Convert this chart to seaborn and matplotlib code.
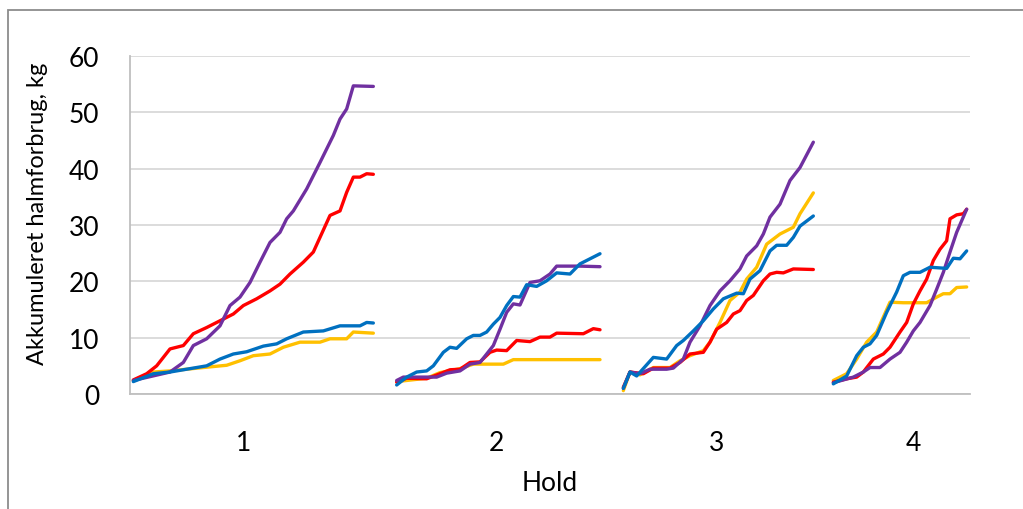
import matplotlib
matplotlib.use("Agg")
import matplotlib.pyplot as plt
from matplotlib.patches import Rectangle
import numpy as np
import pandas as pd
import seaborn as sns

# Accumulated straw use (kg) per pen, four rounds ("hold").
# Each round: days since the round started and accumulated kg per pen.
hold_labels = ["1", "2", "3", "4"]
hold_start_day = [1, 80, 148, 211]

# Round 1
h1_purple_day = [0, 11, 15, 18, 22, 26, 29, 32, 35, 38, 41, 44, 46, 48, 52, 56, 60, 62, 64, 66, 72]
h1_purple_kg = [2.4, 3.9, 5.6, 8.6, 9.8, 12.1, 15.7, 17.2, 19.8, 23.4, 26.9, 28.7, 31.1, 32.5, 36.4, 41.1, 45.9, 48.8, 50.6, 54.7, 54.6]
h1_red_day = [0, 4, 7, 11, 15, 18, 22, 26, 30, 33, 37, 41, 44, 47, 51, 54, 56, 59, 62, 64, 66, 68, 70, 72]
h1_red_kg = [2.5, 3.6, 5.0, 8.0, 8.6, 10.7, 11.8, 13.0, 14.2, 15.7, 16.9, 18.3, 19.5, 21.3, 23.4, 25.2, 27.8, 31.7, 32.5, 35.8, 38.5, 38.5, 39.1, 39.0]
h1_blue_day = [0, 6, 11, 16, 22, 26, 30, 34, 39, 43, 46, 51, 57, 62, 68, 70, 72]
h1_blue_kg = [2.2, 3.6, 3.9, 4.4, 5.0, 6.2, 7.1, 7.5, 8.5, 8.9, 9.8, 11.0, 11.2, 12.1, 12.1, 12.7, 12.6]
h1_yellow_day = [0, 6, 11, 16, 21, 28, 32, 36, 41, 45, 50, 56, 59, 64, 66, 72]
h1_yellow_kg = [2.4, 3.9, 4.1, 4.4, 4.7, 5.1, 5.9, 6.8, 7.1, 8.3, 9.2, 9.2, 9.8, 9.8, 11.0, 10.8]

# Round 2
h2_purple_day = [0, 2, 7, 12, 15, 19, 22, 25, 27, 29, 31, 33, 35, 37, 40, 43, 46, 48, 55, 61]
h2_purple_kg = [2.4, 3.0, 3.0, 3.0, 3.7, 4.1, 5.3, 5.6, 7.1, 8.6, 11.5, 14.5, 16.0, 15.8, 19.8, 20.1, 21.3, 22.7, 22.7, 22.6]
h2_red_day = [0, 3, 9, 13, 16, 19, 22, 25, 28, 30, 33, 36, 40, 43, 46, 48, 56, 59, 61]
h2_red_kg = [2.1, 2.8, 2.7, 3.6, 4.3, 4.4, 5.6, 5.7, 7.4, 7.8, 7.7, 9.5, 9.3, 10.1, 10.1, 10.8, 10.7, 11.6, 11.4]
h2_blue_day = [0, 3, 6, 9, 11, 14, 16, 18, 21, 23, 25, 27, 29, 31, 33, 35, 37, 39, 42, 45, 48, 52, 55, 61]
h2_blue_kg = [1.6, 3.0, 3.9, 4.1, 5.0, 7.4, 8.3, 8.1, 9.8, 10.4, 10.4, 11.0, 12.4, 13.6, 15.7, 17.3, 17.2, 19.4, 19.1, 20.1, 21.5, 21.3, 23.1, 24.9]
h2_yellow_day = [0, 9, 13, 19, 23, 25, 32, 35, 61]
h2_yellow_kg = [2.2, 2.8, 3.8, 4.5, 5.3, 5.3, 5.3, 6.1, 6.1]

# Round 3
h3_purple_day = [0, 2, 5, 8, 13, 15, 18, 20, 23, 26, 29, 32, 35, 37, 40, 42, 44, 47, 50, 53, 57]
h3_purple_kg = [1.0, 3.9, 3.6, 4.4, 4.4, 4.6, 6.2, 9.2, 12.1, 15.7, 18.3, 20.1, 22.2, 24.5, 26.3, 28.4, 31.4, 33.7, 37.9, 40.2, 44.7]
h3_red_day = [0, 2, 6, 9, 14, 17, 20, 24, 26, 28, 31, 33, 35, 37, 39, 42, 44, 46, 48, 51, 57]
h3_red_kg = [1.2, 3.9, 3.6, 4.6, 4.6, 5.6, 7.1, 7.4, 9.2, 11.5, 12.7, 14.2, 14.8, 16.6, 17.5, 20.1, 21.3, 21.6, 21.5, 22.2, 22.1]
h3_blue_day = [0, 2, 4, 9, 13, 16, 18, 21, 24, 27, 30, 34, 36, 38, 41, 44, 46, 49, 51, 53, 57]
h3_blue_kg = [1.0, 3.9, 3.2, 6.5, 6.2, 8.6, 9.5, 11.2, 13.0, 15.1, 16.9, 17.9, 17.8, 20.4, 21.9, 25.4, 26.4, 26.4, 27.8, 29.8, 31.6]
h3_yellow_day = [0, 2, 5, 9, 14, 17, 20, 24, 26, 29, 32, 35, 37, 40, 43, 47, 51, 53, 57]
h3_yellow_kg = [0.6, 3.9, 3.4, 4.7, 4.7, 5.9, 6.8, 7.7, 9.2, 12.7, 16.6, 18.1, 20.4, 22.5, 26.6, 28.4, 29.6, 32.0, 35.7]

# Round 4
h4_purple_day = [0, 6, 9, 11, 14, 17, 20, 22, 24, 26, 29, 31, 33, 35, 37, 40]
h4_purple_kg = [2.0, 3.0, 3.9, 4.7, 4.7, 6.2, 7.4, 9.2, 11.2, 12.7, 15.7, 18.6, 21.6, 25.2, 28.7, 32.8]
h4_red_day = [0, 4, 7, 9, 12, 15, 17, 20, 22, 24, 26, 28, 30, 32, 34, 35, 37, 39, 40]
h4_red_kg = [2.1, 2.7, 3.0, 3.9, 6.2, 7.1, 8.3, 11.0, 12.7, 16.0, 18.3, 20.4, 23.7, 25.7, 27.2, 31.1, 31.8, 32.0, 32.8]
h4_blue_day = [0, 4, 7, 9, 11, 13, 16, 19, 21, 23, 26, 29, 34, 36, 38, 40]
h4_blue_kg = [1.8, 3.2, 6.8, 8.3, 8.9, 10.4, 14.5, 18.1, 21.0, 21.6, 21.6, 22.5, 22.3, 24.1, 24.0, 25.4]
h4_yellow_day = [0, 4, 7, 10, 13, 17, 21, 28, 31, 33, 35, 37, 40]
h4_yellow_kg = [2.4, 3.6, 6.2, 9.2, 11.0, 16.3, 16.2, 16.2, 17.2, 17.8, 17.8, 18.9, 19.0]

pens = ["yellow", "red", "purple", "blue"]  # drawing order
pen_colors = {"yellow": "#FFC000", "red": "#FF0000", "purple": "#7030A0", "blue": "#0070C0"}

series = {
    (0, "purple"): (h1_purple_day, h1_purple_kg), (0, "red"): (h1_red_day, h1_red_kg),
    (0, "blue"): (h1_blue_day, h1_blue_kg), (0, "yellow"): (h1_yellow_day, h1_yellow_kg),
    (1, "purple"): (h2_purple_day, h2_purple_kg), (1, "red"): (h2_red_day, h2_red_kg),
    (1, "blue"): (h2_blue_day, h2_blue_kg), (1, "yellow"): (h2_yellow_day, h2_yellow_kg),
    (2, "purple"): (h3_purple_day, h3_purple_kg), (2, "red"): (h3_red_day, h3_red_kg),
    (2, "blue"): (h3_blue_day, h3_blue_kg), (2, "yellow"): (h3_yellow_day, h3_yellow_kg),
    (3, "purple"): (h4_purple_day, h4_purple_kg), (3, "red"): (h4_red_day, h4_red_kg),
    (3, "blue"): (h4_blue_day, h4_blue_kg), (3, "yellow"): (h4_yellow_day, h4_yellow_kg),
}

rows = []
for (h, pen), (days, kg) in series.items():
    for d, v in zip(days, kg):
        rows.append({"hold": hold_labels[h], "pen": pen, "x": hold_start_day[h] + d, "kg": v})
df = pd.DataFrame(rows)

sns.set_theme(style="white")
plt.rcParams["font.family"] = ["Lato", "DejaVu Sans"]

W, H = 1023, 510
fig = plt.figure(figsize=(W / 100, H / 100), dpi=100)
ax = fig.add_axes([130 / W, 1 - 395 / H, 840 / W, 338 / H])

# Chart frame
fig.patches.append(Rectangle((8 / W, -0.05), 1.1, 1 - 11 / H + 0.05, transform=fig.transFigure,
                             fill=False, edgecolor="#8C8C8C", linewidth=1.3, zorder=0))

sns.lineplot(data=df, x="x", y="kg", hue="pen", hue_order=pens, palette=pen_colors,
             units="hold", estimator=None, sort=False, linewidth=2.4, legend=False, ax=ax)

ax.set_xlim(0, 252)
ax.set_ylim(0, 60)
ax.set_yticks(np.arange(0, 61, 10))
ax.grid(axis="y", color="#D9D9D9", linewidth=1.3)
ax.grid(axis="x", visible=False)
ax.set_axisbelow(True)
for s in ["top", "right"]:
    ax.spines[s].set_visible(False)
for s in ["left", "bottom"]:
    ax.spines[s].set_color("#BFBFBF")
    ax.spines[s].set_linewidth(1.3)

label_pos = [34, 110, 176, 235]
ax.set_xticks(label_pos)
ax.set_xticklabels(hold_labels)
ax.tick_params(axis="x", length=0, pad=26, labelsize=19, colors="#000000")
ax.tick_params(axis="y", length=7.2, width=1.3, color="#D9D9D9", pad=15, labelsize=19, labelcolor="#000000")

ax.set_xlabel("Hold", fontsize=19, color="#000000", labelpad=11)
ax.set_ylabel("Akkumuleret halmforbrug, kg", fontsize=17, color="#000000")
ax.yaxis.set_label_coords(-0.1107, 0.535)
ax.yaxis.label.set_verticalalignment("center")

fig.savefig("out.png", dpi=100)
